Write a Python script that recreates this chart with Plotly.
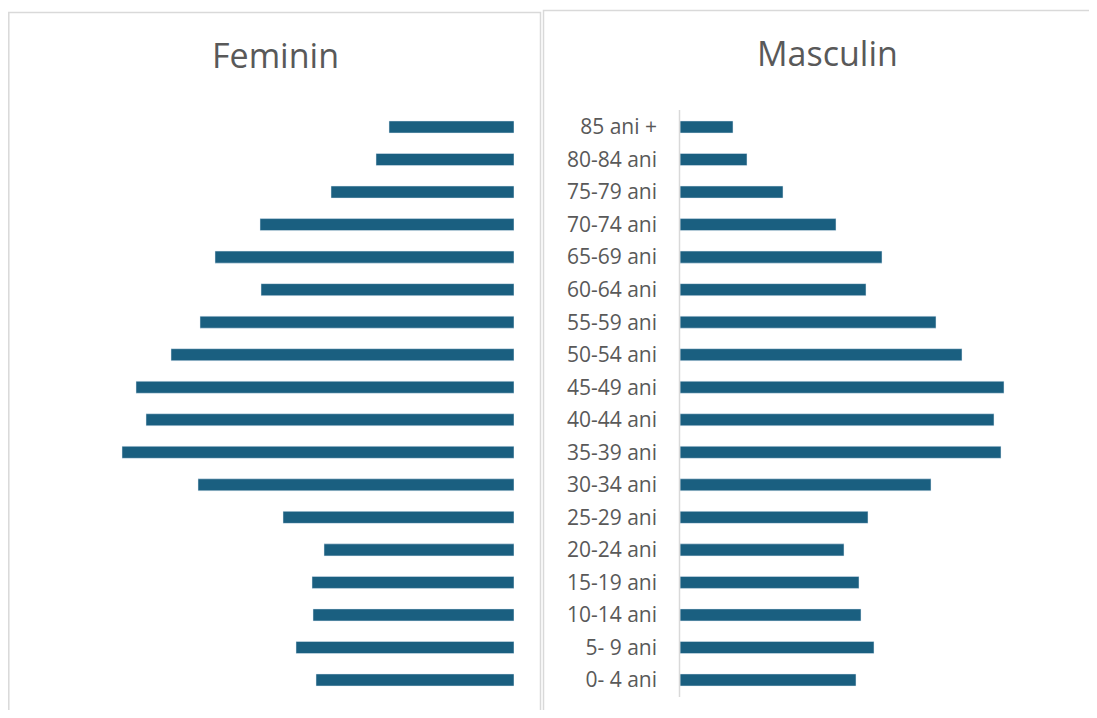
import plotly.graph_objects as go

categories = ["0- 4 ani", "5- 9 ani", "10-14 ani", "15-19 ani", "20-24 ani", "25-29 ani",
              "30-34 ani", "35-39 ani", "40-44 ani", "45-49 ani", "50-54 ani", "55-59 ani",
              "60-64 ani", "65-69 ani", "70-74 ani", "75-79 ani", "80-84 ani", "85 ani +"]
feminin = [198, 218, 201, 202, 190, 231, 316, 392, 368, 378, 343, 314, 253, 299, 254, 183, 138, 125]
masculin = [176, 194, 181, 179, 164, 188, 251, 321, 314, 324, 282, 256, 186, 202, 156, 103, 67, 53]

OFF = 8  # page body margin
W, H = 1097 - 2 * OFF, 718 - 2 * OFF
BAR = "#1a5f80"
GREY_TXT = "#595959"
BORDER = "#d9d9d9"


def px(x):
    return (x - OFF) / W


def py(y):
    return 1 - (y - OFF) / H


fig = go.Figure()
fig.add_trace(go.Bar(y=categories, x=feminin, orientation="h", marker_color=BAR,
                     xaxis="x", yaxis="y", showlegend=False))
fig.add_trace(go.Bar(y=categories, x=masculin, orientation="h", marker_color=BAR,
                     xaxis="x2", yaxis="y2", showlegend=False))

# y scale: index 0 at screen px 680, index 17 at 127
s = (680 - 127) / 17.0
bottom_px = OFF + H
r0 = -(bottom_px - 680) / s
r1 = r0 + H / s

left_end = 514
fig.update_layout(
    width=W, height=H,
    margin=dict(l=0, r=0, t=0, b=0),
    paper_bgcolor="white", plot_bgcolor="white",
    bargap=0.63,
    xaxis=dict(domain=[0, px(left_end)], range=[left_end - OFF, 0], visible=False),
    yaxis=dict(domain=[0, 1], range=[r0, r1], anchor="x", showticklabels=False,
               showgrid=False, zeroline=False, showline=False, ticks=""),
    xaxis2=dict(domain=[px(680), 1], range=[0, W + OFF - 680], visible=False),
    yaxis2=dict(domain=[0, 1], range=[r0, r1], anchor="x2", showgrid=False, zeroline=False,
                showline=False, ticks="", ticklabelstandoff=22,
                tickfont=dict(family="Open Sans", size=21, color=GREY_TXT)),
    font=dict(family="Open Sans"),
    shapes=[
        dict(type="rect", xref="paper", yref="paper", x0=px(8.8), x1=px(540.5),
             y0=-0.02, y1=py(12.5), line=dict(color=BORDER, width=1.5), layer="below"),
        dict(type="rect", xref="paper", yref="paper", x0=px(543.5), x1=1.02,
             y0=-0.02, y1=py(10.5), line=dict(color=BORDER, width=1.5), layer="below"),
        dict(type="line", xref="paper", yref="paper", x0=px(679.5), x1=px(679.5),
             y0=py(697), y1=py(110), line=dict(color=BORDER, width=1.5)),
    ],
    annotations=[
        dict(text="Feminin", xref="paper", yref="paper", x=px(275), y=py(55),
             showarrow=False, xanchor="center", yanchor="middle",
             font=dict(family="Open Sans", size=34, color=GREY_TXT)),
        dict(text="Masculin", xref="paper", yref="paper", x=px(827), y=py(53),
             showarrow=False, xanchor="center", yanchor="middle",
             font=dict(family="Open Sans", size=34, color=GREY_TXT)),
    ],
)

fig.write_html("out.html")
